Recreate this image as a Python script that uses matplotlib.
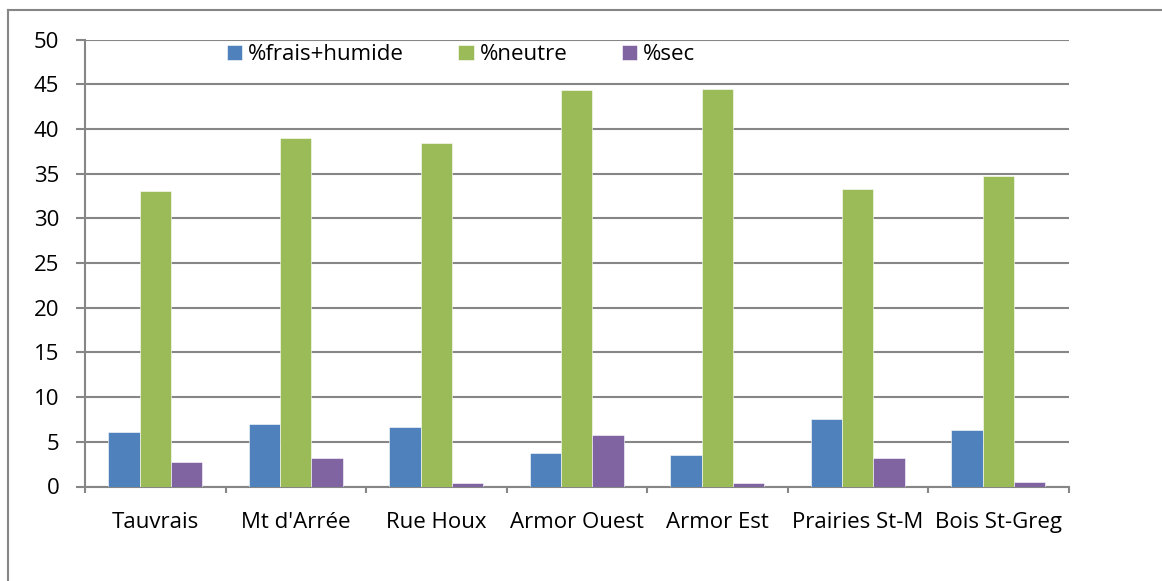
import matplotlib
matplotlib.use("Agg")
import matplotlib.pyplot as plt
import numpy as np
from matplotlib.lines import Line2D

# ----------------------------------------------------------------------
#  Data
# ----------------------------------------------------------------------
sites = ["Tauvrais", "Mt d'Arrée", "Rue Houx", "Armor Ouest", "Armor Est",
         "Prairies St-M", "Bois St-Greg"]
frais_humide = [6.05, 7.0, 6.7, 3.75, 3.5, 7.5, 6.3]
neutre = [33.1, 39.0, 38.45, 44.3, 44.5, 33.3, 34.7]
sec = [2.7, 3.2, 0.35, 5.8, 0.35, 3.15, 0.45]
series_names = ["%frais+humide", "%neutre", "%sec"]
y_ticks = [0, 5, 10, 15, 20, 25, 30, 35, 40, 45, 50]

colors = ["#4F81BD", "#9BBB59", "#8064A2"]
grid_color = "#868686"
fs = 16

plt.rcParams['font.family'] = ['Open Sans', 'DejaVu Sans']

W, H = 1162, 581
fig = plt.figure(figsize=(W / 100, H / 100), dpi=100)
ax = fig.add_axes([85 / W, 1 - 486.5 / H, (1068.5 - 85) / W, (486.5 - 39.5) / H])

x = np.arange(len(sites))
bw = 0.222
for k, vals in enumerate([frais_humide, neutre, sec]):
	ax.bar(x + (k - 1) * bw, vals, bw, color=colors[k], label=series_names[k],
	       edgecolor='white', linewidth=0.4, zorder=3)

ax.set_xlim(-0.5, len(sites) - 0.5)
ax.set_ylim(0, 50)
ax.set_yticks(y_ticks)
ax.set_yticklabels([str(v) for v in y_ticks], fontsize=fs)
ax.yaxis.grid(True, color=grid_color, linewidth=1.5, zorder=0)
ax.set_axisbelow(True)

# category labels, ticks on group boundaries
ax.set_xticks(x)
ax.set_xticklabels(sites, fontsize=fs)
ax.tick_params(axis='x', length=0, pad=18.5)
ax.set_xticks(np.arange(len(sites) + 1) - 0.5, minor=True)
ax.tick_params(axis='x', which='minor', length=4, width=1.5, color=grid_color, direction='out')
ax.tick_params(axis='y', length=6.5, width=1.5, color=grid_color, direction='out', pad=12)

for side in ['top', 'right']:
	ax.spines[side].set_visible(False)
for side in ['left', 'bottom']:
	ax.spines[side].set_color(grid_color)
	ax.spines[side].set_linewidth(1.5)

ax.legend(loc='center left', bbox_to_anchor=(227 / W, 1 - 55 / H),
          bbox_transform=fig.transFigure, ncol=3, frameon=False,
          fontsize=fs, handlelength=0.68, handleheight=0.68, handletextpad=0.27,
          columnspacing=2.45, borderpad=0, borderaxespad=0)

# outer chart frame (top and left edges)
fig.add_artist(Line2D([8 / W, 1], [1 - 9.5 / H, 1 - 9.5 / H], color=grid_color, linewidth=1.5))
fig.add_artist(Line2D([8 / W, 8 / W], [0, 1 - 9.5 / H], color=grid_color, linewidth=1.5))

plt.savefig("out.png", dpi=100)
